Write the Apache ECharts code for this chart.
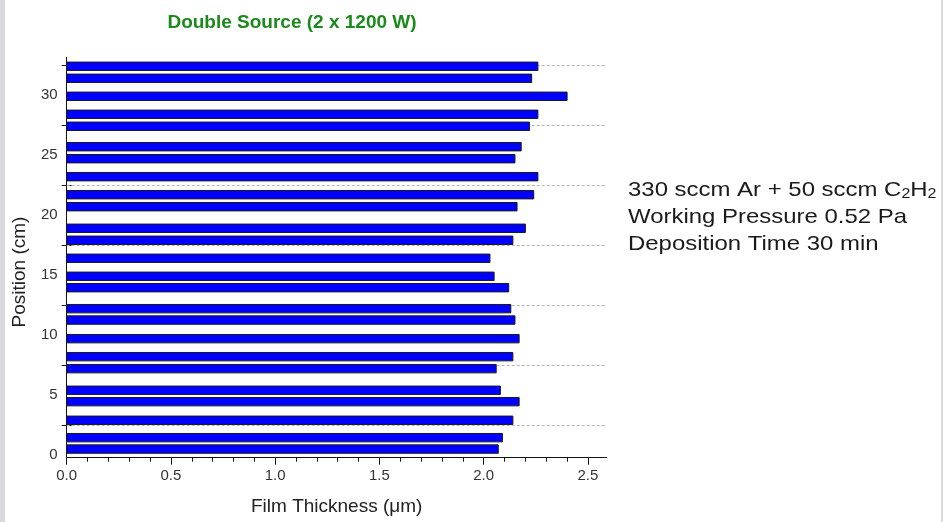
<!DOCTYPE html>
<html>
<head>
<meta charset="utf-8">
<script src="https://cdn.jsdelivr.net/npm/echarts@6/dist/echarts.min.js"></script>
<style>
  html, body { margin: 0; padding: 0; background: #ffffff; }
  #chart { width: 943px; height: 522px; }
</style>
</head>
<body>
<div id="chart"></div>
<script>
// Substrate positions along the holder (cm) and measured film thickness (µm)
const positions = [32.4, 31.4, 29.9, 28.4, 27.4, 25.7, 24.7, 23.2, 21.7, 20.7, 18.9, 17.9, 16.4,
                   14.9, 13.95, 12.2, 11.25, 9.7, 8.2, 7.2, 5.4, 4.45, 2.9, 1.45, 0.5];
const thickness = [2.26, 2.23, 2.40, 2.26, 2.22, 2.18, 2.15, 2.26, 2.24, 2.16, 2.20, 2.14, 2.03,
                   2.05, 2.12, 2.13, 2.15, 2.17, 2.14, 2.06, 2.08, 2.17, 2.14, 2.09, 2.07];

// Axis tick / label positions
const xLabelValues = [0, 0.5, 1.0, 1.5, 2.0, 2.5];
const xMinorValues = [];
for (let i = 0; i <= 25; i++) xMinorValues.push(i / 10);
const yLabelValues = [0, 5, 10, 15, 20, 25, 30];
const yTickValues = [2.5, 7.5, 12.5, 17.5, 22.5, 27.5, 32.5];

const titleText = 'Double Source (2 x 1200 W)';
const xName = 'Film Thickness (μm)';
const yName = 'Position (cm)';

const X_MIN = 0, X_MAX = 2.59;
const Y_MIN = -0.22, Y_MAX = 33.15;
const BAR_HEIGHT = 0.7;

const chart = echarts.init(document.getElementById('chart'), null, { renderer: 'canvas' });

const axisColor = '#111';
const labelColor = '#333';
const baseFont = 'Liberation Sans, Arial, Helvetica, sans-serif';
const noteFont = '21px ' + baseFont;
const NOTE_STRETCH = 1.14;

const option = {
  backgroundColor: '#ffffff',
  animation: false,
  title: {
    text: titleText,
    left: 287,
    top: 8,
    textAlign: 'center',
    textStyle: {
      color: '#1b8a1b',
      fontFamily: 'Liberation Sans Narrow, Arial Narrow, Liberation Sans, sans-serif',
      fontWeight: 'bold',
      fontSize: 19
    }
  },
  grid: { left: 66.7, top: 57.3, right: 336.3, bottom: 64.3, containLabel: false },
  xAxis: [
    {
      type: 'value', min: X_MIN, max: X_MAX, position: 'bottom',
      name: xName, nameLocation: 'middle', nameGap: 40,
      nameTextStyle: { color: '#222', fontSize: 19, fontFamily: baseFont },
      axisLine: { show: true, onZero: false, lineStyle: { color: axisColor, width: 1 } },
      axisTick: { show: true, customValues: xLabelValues, length: 7, lineStyle: { color: axisColor } },
      axisLabel: {
        customValues: xLabelValues, margin: 11, color: labelColor, fontSize: 15, fontFamily: baseFont,
        formatter: v => v.toFixed(1)
      },
      splitLine: { show: false }
    },
    {
      type: 'value', min: X_MIN, max: X_MAX, position: 'bottom', offset: 0,
      axisLine: { show: false, onZero: false },
      axisTick: { show: true, customValues: xMinorValues, length: 4, lineStyle: { color: axisColor } },
      axisLabel: { show: false },
      splitLine: { show: false }
    }
  ],
  yAxis: [
    {
      type: 'value', min: Y_MIN, max: Y_MAX, position: 'left',
      axisLine: { show: true, onZero: false, lineStyle: { color: axisColor, width: 1 } },
      axisTick: { show: true, customValues: yTickValues, length: 5, lineStyle: { color: axisColor } },
      axisLabel: {
        customValues: yLabelValues, margin: 9, color: labelColor, fontSize: 15, fontFamily: baseFont
      },
      splitLine: { show: false }
    },
    {
      type: 'value', min: Y_MIN, max: Y_MAX, position: 'left', offset: 0,
      axisLine: { show: false, onZero: false },
      axisTick: { show: true, inside: true, customValues: yTickValues, length: 5, lineStyle: { color: axisColor } },
      axisLabel: { show: false },
      splitLine: { show: false }
    }
  ],
  series: [
    {
      type: 'custom',
      xAxisIndex: 0,
      yAxisIndex: 0,
      z: 3,
      encode: { x: 0, y: 1 },
      data: thickness.map((t, i) => [t, positions[i]]),
      renderItem: function (params, api) {
        const xv = api.value(0);
        const yv = api.value(1);
        const start = api.coord([0, yv]);
        const end = api.coord([xv, yv]);
        const h = api.size([0, BAR_HEIGHT])[1];
        return {
          type: 'rect',
          shape: { x: start[0], y: start[1] - h / 2, width: end[0] - start[0], height: h },
          style: { fill: '#0000ff', stroke: '#1a1a1a', lineWidth: 1 }
        };
      },
      markLine: {
        z: 1,
        silent: true,
        symbol: ['none', 'none'],
        label: { show: false },
        lineStyle: { color: '#b4b4b4', type: [3, 2], width: 1 },
        data: yTickValues.map(v => ({ yAxis: v }))
      }
    }
  ],
  graphic: [
    { type: 'rect', left: 0, top: 0, shape: { width: 5, height: 522 }, style: { fill: '#d9d9dd' }, silent: true },
    { type: 'rect', left: 941, top: 0, shape: { width: 2, height: 522 }, style: { fill: '#d9d9dd' }, silent: true },
    {
      type: 'text', x: 20, y: 272, rotation: Math.PI / 2,
      style: {
        text: yName, fill: '#222', font: '19px ' + baseFont,
        align: 'center', verticalAlign: 'middle'
      }
    },
    {
      type: 'text', x: 628, y: 190, scaleX: NOTE_STRETCH,
      style: {
        text: '{a|330 sccm Ar + 50 sccm C}{s|2}{a|H}{s|2}',
        align: 'left', verticalAlign: 'middle',
        rich: {
          a: { fontSize: 21, fontFamily: baseFont, fill: '#1a1a1a', lineHeight: 26 },
          s: { fontSize: 14, fontFamily: baseFont, fill: '#1a1a1a', lineHeight: 26, verticalAlign: 'bottom', padding: [0, 0, 2, 0] }
        }
      }
    },
    {
      type: 'text', x: 628, y: 217, scaleX: NOTE_STRETCH,
      style: { text: 'Working Pressure 0.52 Pa', fill: '#1a1a1a', font: noteFont, align: 'left', verticalAlign: 'middle' }
    },
    {
      type: 'text', x: 628, y: 244, scaleX: NOTE_STRETCH,
      style: { text: 'Deposition Time 30 min', fill: '#1a1a1a', font: noteFont, align: 'left', verticalAlign: 'middle' }
    }
  ]
};

chart.setOption(option);
</script>
</body>
</html>
